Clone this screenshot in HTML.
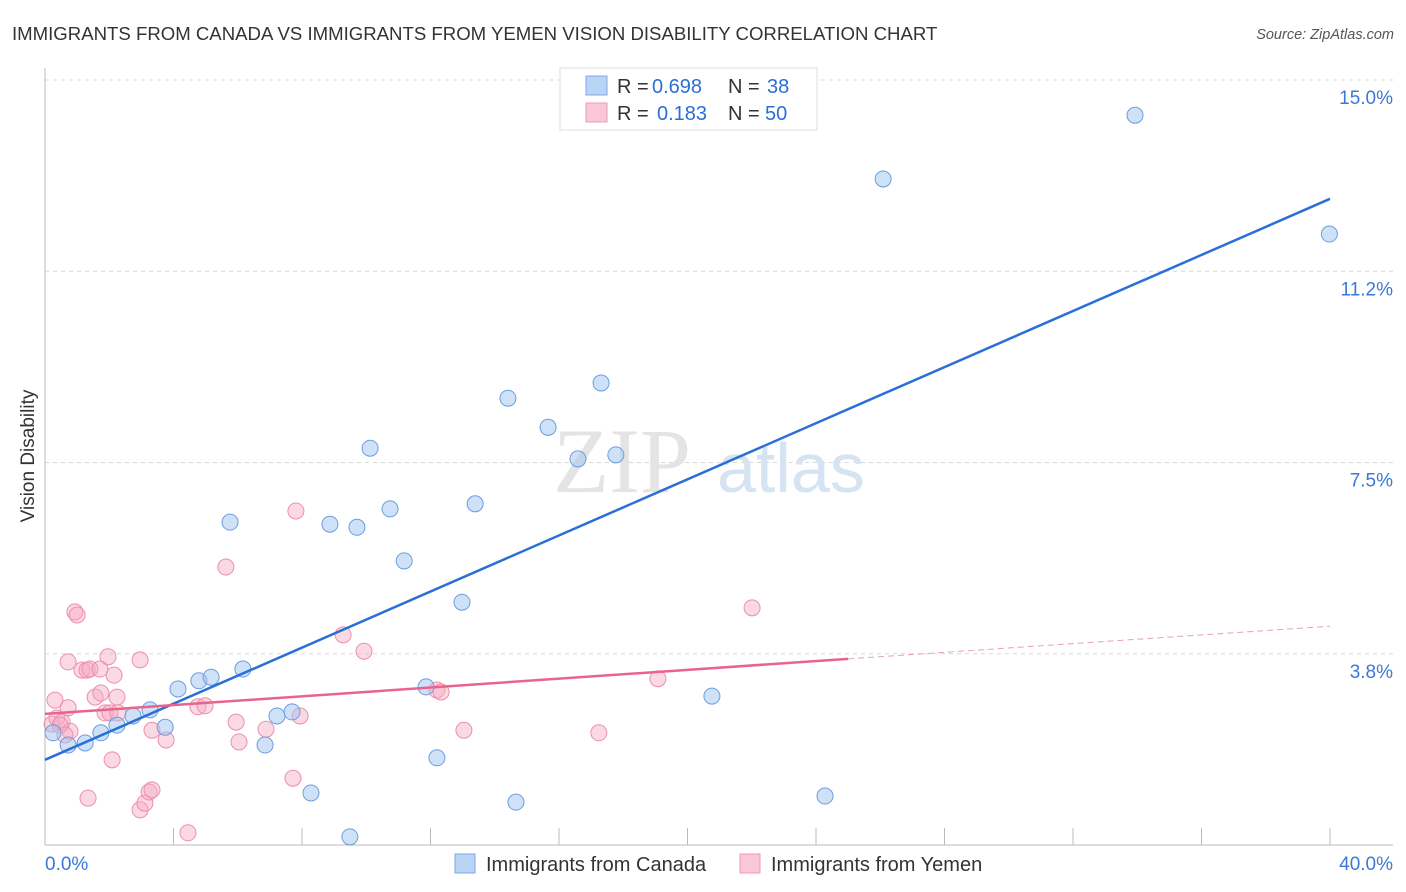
<!DOCTYPE html>
<html><head><meta charset="utf-8"><style>
body{margin:0;background:#fff;font-family:"Liberation Sans",sans-serif;}
#wrap{position:relative;width:1406px;height:892px;overflow:hidden;}
</style></head><body>
<div id="wrap">
<svg id="svg" width="1406" height="892" xmlns="http://www.w3.org/2000/svg">
<text x="12" y="40" font-size="18.6" fill="#333">IMMIGRANTS FROM CANADA VS IMMIGRANTS FROM YEMEN VISION DISABILITY CORRELATION CHART</text>
<text x="1394" y="39" font-size="14.5" fill="#555" text-anchor="end" font-style="italic">Source: ZipAtlas.com</text>
<text x="0" y="0" transform="translate(34,456) rotate(-90)" font-size="19" fill="#333" text-anchor="middle">Vision Disability</text>
<g id="grid"></g>
<text x="553" y="492" font-size="92" font-family="Liberation Serif,serif" fill="#e4e4e4">ZIP</text>
<text x="717" y="492" font-size="70" fill="#d6e3f3">atlas</text>
<g id="pts"></g>
<g id="lines"></g>
<g font-size="20">
<rect x="560" y="68" width="257" height="62" fill="#fff" stroke="#ddd"/>
<rect x="586" y="76" width="21" height="19" fill="#bad4f5" stroke="#7fa9e0"/>
<rect x="586" y="103" width="21" height="19" fill="#f9c7d6" stroke="#ee99b3"/>
<text x="617" y="93" fill="#333">R =</text>
<text x="652" y="93" fill="#2c6fd4">0.698</text>
<text x="728" y="93" fill="#333">N =</text>
<text x="767" y="93" fill="#2c6fd4">38</text>
<text x="617" y="120" fill="#333">R =</text>
<text x="657" y="120" fill="#2c6fd4">0.183</text>
<text x="728" y="120" fill="#333">N =</text>
<text x="765" y="120" fill="#2c6fd4">50</text>
</g>
<g>
<rect x="455" y="854" width="20" height="19" fill="#bad4f5" stroke="#7fa9e0"/>
<text x="486" y="871" font-size="20" fill="#333">Immigrants from Canada</text>
<rect x="740" y="854" width="20" height="19" fill="#f9c7d6" stroke="#ee99b3"/>
<text x="771" y="871" font-size="20" fill="#333">Immigrants from Yemen</text>
</g>
</svg>
</div>
<script>
const xTicks=[0,40];
const xTickLabels=["0.0%","40.0%"];
const yTicks=[3.75,7.5,11.25,15.0];
const yTickLabels=["3.8%","7.5%","11.2%","15.0%"];
const canadaX=[0.25,0.72,1.25,1.74,2.24,2.74,3.27,3.74,4.14,4.79,5.17,6.16,5.76,6.85,7.22,7.69,8.28,8.87,9.49,9.71,10.12,10.74,11.18,11.86,12.2,12.98,13.39,14.41,14.66,15.66,16.59,17.31,17.77,20.76,24.28,26.09,33.93,39.98];
const canadaY=[2.20,1.96,2.00,2.20,2.35,2.53,2.65,2.31,3.06,3.22,3.29,3.45,6.33,1.96,2.53,2.61,1.02,6.29,0.16,6.23,7.78,6.59,5.57,3.10,1.71,4.76,6.69,8.76,0.84,8.19,7.57,9.06,7.65,2.92,0.96,13.06,14.31,11.98];
const yemenX=[0.22,0.37,0.31,0.53,0.72,0.78,0.72,0.93,1.0,1.15,1.31,1.4,1.56,1.74,1.87,1.96,2.02,2.15,2.24,2.09,1.34,2.96,3.33,3.77,2.96,3.11,3.24,3.33,4.45,4.76,4.98,5.63,5.95,6.04,6.88,7.72,7.81,7.94,9.28,9.93,12.2,12.33,13.04,17.24,19.08,22.01,0.47,0.62,2.27,1.71];
const yemenY=[2.37,2.49,2.84,2.41,2.69,2.23,3.59,4.57,4.51,3.43,3.43,3.45,2.90,2.98,2.59,3.69,2.59,3.33,2.90,1.67,0.92,3.63,2.25,2.06,0.69,0.82,1.04,1.08,0.24,2.71,2.73,5.45,2.41,2.02,2.27,1.31,6.55,2.53,4.12,3.80,3.04,3.00,2.25,2.20,3.26,4.65,2.35,2.16,2.59,3.45];
const canadaLineX=[0,40];const canadaLineY=[1.67,12.67];
const yemenLineX=[0,25,40];const yemenLineY=[2.57,3.65,4.29];
const X=v=>45+v*32.125, Y=v=>845-v*51.0;
const NS="http://www.w3.org/2000/svg";
function mk(t,a,p){const e=document.createElementNS(NS,t);for(const k in a)e.setAttribute(k,a[k]);p.appendChild(e);return e;}
const grid=document.getElementById('grid');
yTicks.forEach((v,i)=>{
 const l=mk('line',{x1:45,x2:1393,y1:Y(v),y2:Y(v),stroke:'#d8d8d8','stroke-dasharray':'4,4'},grid);
 
 
 const t=mk('text',{x:1393,y:Y(v)+24,'font-size':19,fill:'#3b78d8','text-anchor':'end'},grid);t.textContent=yTickLabels[i];
 
 
});
const ax=mk('line',{x1:45,x2:1393,y1:845,y2:845,stroke:'#bbb'},grid);


const ay=mk('line',{x1:45,x2:45,y1:68,y2:845,stroke:'#bbb'},grid);


for(let i=0;i<=10;i++){mk('line',{x1:X(i*4),x2:X(i*4),y1:828,y2:845,stroke:'#bbb'},grid);}
xTicks.forEach((v,i)=>{const t=mk('text',{x:i?1393:45,y:870,'font-size':19,fill:'#3b78d8','text-anchor':i?'end':'start'},grid);t.textContent=xTickLabels[i];
 
 });
const pts=document.getElementById('pts');
yemenX.forEach((x,i)=>{const c=mk('circle',{cx:X(x),cy:Y(yemenY[i]),r:8,fill:'rgba(246,170,195,0.45)',stroke:'#ec8fae','stroke-width':1},pts);
 
 });
canadaX.forEach((x,i)=>{const c=mk('circle',{cx:X(x),cy:Y(canadaY[i]),r:8,fill:'rgba(160,196,240,0.5)',stroke:'#6a9ee0','stroke-width':1},pts);
 
 });
const lines=document.getElementById('lines');
const bl=mk('line',{x1:X(canadaLineX[0]),y1:Y(canadaLineY[0]),x2:X(canadaLineX[1]),y2:Y(canadaLineY[1]),stroke:'#2a6fd6','stroke-width':2.5},lines);


const pl=mk('line',{x1:X(yemenLineX[0]),y1:Y(yemenLineY[0]),x2:X(yemenLineX[1]),y2:Y(yemenLineY[1]),stroke:'#e8648f','stroke-width':2.5},lines);


const pd=mk('line',{x1:X(yemenLineX[1]),y1:Y(yemenLineY[1]),x2:X(yemenLineX[2]),y2:Y(yemenLineY[2]),stroke:'#e8a0b8','stroke-width':1,'stroke-dasharray':'6,4'},lines);


</script>
</body></html>
